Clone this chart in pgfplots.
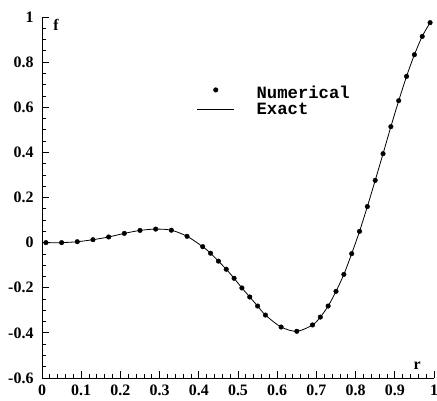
\documentclass[border=0pt]{standalone}
\usepackage{fontspec}
\setmainfont{Liberation Serif}
\newfontfamily\monofont{Liberation Mono}
\usepackage{pgfplots}
\pgfplotsset{compat=1.18}
\usetikzlibrary{calc}

\pgfplotsset{
  numdot key/.style={legend image code/.code={\draw[##1] plot coordinates {(18.5bp,3bp)};}},
  exactseg key/.style={legend image code/.code={\draw[##1] (0bp,0bp) -- (37bp,0bp);}},
}

% f(r): computed values and exact solution
\pgfplotstableread{
r      f
0.01   0.000
0.05   0.000
0.09   0.004
0.13   0.013
0.17   0.025
0.21   0.041
0.25   0.054
0.29   0.060
0.33   0.055
0.37   0.028
0.41  -0.018
0.43  -0.047
0.45  -0.082
0.47  -0.118
0.49  -0.158
0.51  -0.201
0.53  -0.241
0.55  -0.281
0.57  -0.321
0.61  -0.374
0.65  -0.393
0.69  -0.365
0.71  -0.330
0.73  -0.281
0.75  -0.216
0.77  -0.141
0.79  -0.049
0.81   0.050
0.83   0.160
0.85   0.276
0.87   0.394
0.89   0.514
0.91   0.629
0.93   0.737
0.95   0.833
0.97   0.914
0.99   0.975
}\numerical

\pgfplotstableread{
r      f
0.00   0.000
0.01   0.000
0.05   0.000
0.09   0.004
0.13   0.013
0.17   0.025
0.21   0.041
0.25   0.054
0.29   0.060
0.33   0.055
0.37   0.028
0.41  -0.018
0.43  -0.047
0.45  -0.082
0.47  -0.118
0.49  -0.158
0.51  -0.201
0.53  -0.241
0.55  -0.281
0.57  -0.321
0.61  -0.374
0.65  -0.393
0.69  -0.365
0.71  -0.330
0.73  -0.281
0.75  -0.216
0.77  -0.141
0.79  -0.049
0.81   0.050
0.83   0.160
0.85   0.276
0.87   0.394
0.89   0.514
0.91   0.629
0.93   0.737
0.95   0.833
0.97   0.914
0.99   0.975
}\exact

\begin{document}
\begin{tikzpicture}
\begin{axis}[
  scale only axis,
  width=392bp, height=361bp,
  xmin=0, xmax=1, ymin=-0.6, ymax=1,
  axis x line=bottom, axis y line=left,
  axis line style={-, line width=1bp},
  tick align=inside,
  major tick length=7bp, minor tick length=3.5bp,
  every tick/.style={black, line width=0.8bp},
  xtick={0,0.1,...,1.0}, minor x tick num=4,
  ytick={-0.6,-0.4,...,1.0}, minor y tick num=3,
  /pgf/number format/assume math mode=true,
  /pgf/number format/fixed,
  ticklabel style={font=\bfseries\fontsize{16}{16}\selectfont},
  xticklabel style={yshift=-3bp},
  yticklabel style={xshift=-5bp},
  legend style={draw=none, fill=none, inner sep=0pt, outer sep=0pt,
    at={(axis cs:0.395,0.628)}, anchor=west,
    row sep=3bp, column sep=22bp,
    nodes={inner sep=0pt, font=\monofont\bfseries\fontsize{17.3}{17.3}\selectfont}},
  legend cell align=left,
  clip=false,
]
\addplot[black, line width=0.8bp, smooth, no marks,
  forget plot] table[x=r, y=f] {\exact};
\addplot[only marks, mark=*, mark size=2.3bp, black, numdot key]
  table[x=r, y=f] {\numerical};
\addlegendentry{Numerical}
\addlegendimage{black, line width=0.8bp, exactseg key}
\addlegendentry{Exact}
\node[font=\bfseries\fontsize{16}{16}\selectfont] at (axis cs:0.036,0.967) {f};
\node[font=\bfseries\fontsize{16}{16}\selectfont] at (axis cs:0.957,-0.547) {r};
\end{axis}
\pgfresetboundingbox
\path[use as bounding box] ($(current axis.south west)+(-42bp,-23bp)$)
  rectangle ($(current axis.north east)+(3bp,17bp)$);
\end{tikzpicture}
\end{document}
